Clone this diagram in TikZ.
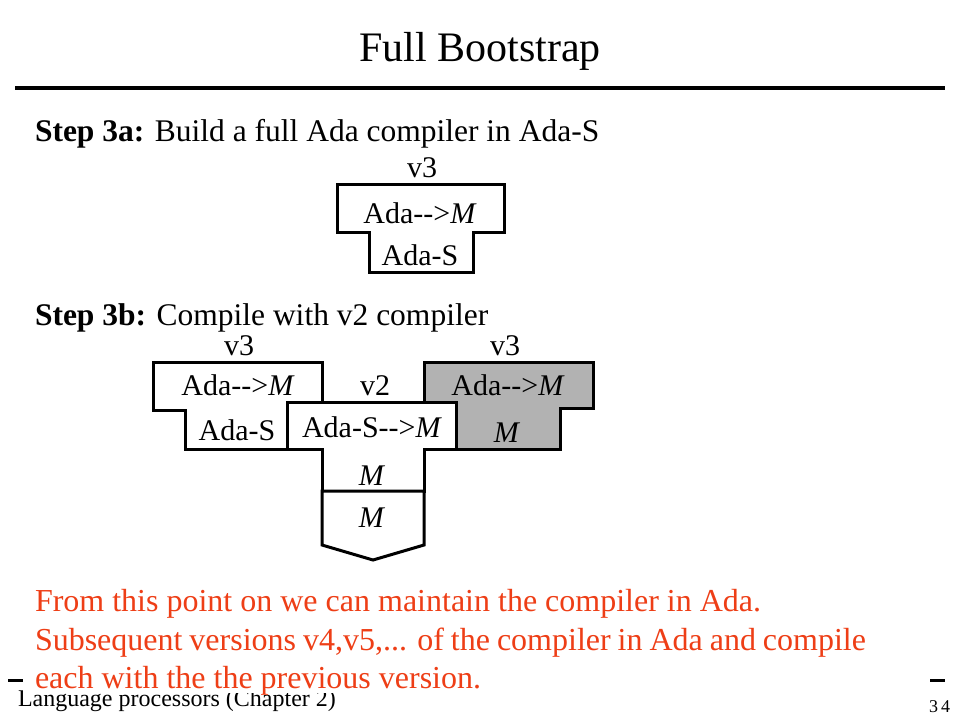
\documentclass[tikz,border=0pt]{standalone}
\usepackage{fontspec}
\setmainfont{Liberation Serif}
\definecolor{orangetext}{RGB}{238,62,22}
\definecolor{greyfill}{RGB}{178,178,178}
\newcommand{\arr}{\mbox{-}\mbox{-}\mbox{>}}
\begin{document}
\begin{tikzpicture}[x=1pt,y=-1pt,
  txt/.style={inner sep=0pt,outer sep=0pt},
  lbl/.style={txt,anchor=base,font=\fontsize{30}{34}\selectfont},
  tshape/.style={draw=black,line width=3pt,line join=miter,fill=white},
  body/.style={txt,anchor=base west,font=\fontsize{31.5}{37}\selectfont},
  note/.style={body,font=\fontsize{32}{37}\selectfont,text=orangetext}]
\useasboundingbox (0,0) rectangle (960,720);
\fill[white] (0,0) rectangle (960,720);
% title
\node[txt,anchor=base,font=\fontsize{42}{48}\selectfont] (title) at (480,61) {Full Bootstrap};
\coordinate (ruleL) at (15,88);
\coordinate (ruleR) at (945,88);
\draw[line width=4pt] (ruleL) -- (ruleR);
% footer
\coordinate (footL) at (8,680);
\coordinate (footR) at (945,680);
\draw[line width=3pt] (footL) -- (footR);
\node[txt,anchor=base west,font=\fontsize{24}{28}\selectfont] (foot) at (18,706) {Language processors (Chapter 2)};
\node[txt,anchor=base east,font=\fontsize{18}{20}\selectfont] (page) at (950,712) {3\,4};
% step 3a
\node[body] (s3a) at (35,141) {\textbf{Step 3a:} Build a full Ada compiler in Ada-S};
\draw[tshape] (337,184) -- (504,184) -- (504,232) -- (473,232) -- (473,272) -- (369,272) -- (369,232) -- (337,232) -- cycle;
\node[lbl] (av3) at (422,177) {v3};
\node[lbl] (aadam) at (420,223) {Ada\arr\textit{M}};
\node[lbl] (aadas) at (420,265) {Ada-S};
% step 3b
\node[body] (s3b) at (35,325) {\textbf{Step 3b:} Compile with v2 compiler};
\draw[tshape] (153,362) -- (322,362) -- (322,410) -- (289,410) -- (289,449) -- (185,449) -- (185,410) -- (153,410) -- cycle;
\draw[tshape,fill=greyfill] (424,362) -- (593,362) -- (593,408) -- (560,408) -- (560,449) -- (456,449) -- (456,408) -- (424,408) -- cycle;
\draw[tshape] (287,402) -- (456,402) -- (456,449) -- (424,449) -- (424,491) -- (322,491) -- (322,449) -- (287,449) -- cycle;
\draw[tshape] (322,491) -- (424,491) -- (424,545) -- (373,560) -- (322,545) -- cycle;
\node[lbl] (bv3l) at (239,355) {v3};
\node[lbl] (badaml) at (238,395) {Ada\arr\textit{M}};
\node[lbl] (badasl) at (237,440) {Ada-S};
\node[lbl] (bv2) at (375,395) {v2};
\node[lbl] (bcomp) at (372,437) {Ada-S\arr\textit{M}};
\node[lbl] (bv3r) at (505,355) {v3};
\node[lbl] (badamr) at (508,395) {Ada\arr\textit{M}};
\node[lbl] (bmr) at (507,442) {\textit{M}};
\node[lbl] (bms) at (372,485) {\textit{M}};
\node[lbl] (bmm) at (372,527) {\textit{M}};
% note box
\fill[white] (23,585) rectangle (930,693);
\node[note] (n1) at (35,611) {From this point on we can maintain the compiler in Ada.};
\node[note] (n2) at (35,650) {\makebox[831pt][s]{Subsequent versions v4,v5,... of the compiler in Ada and compile}};
\node[note] (n3) at (35,688) {each with the the previous version.};
\end{tikzpicture}
\end{document}
